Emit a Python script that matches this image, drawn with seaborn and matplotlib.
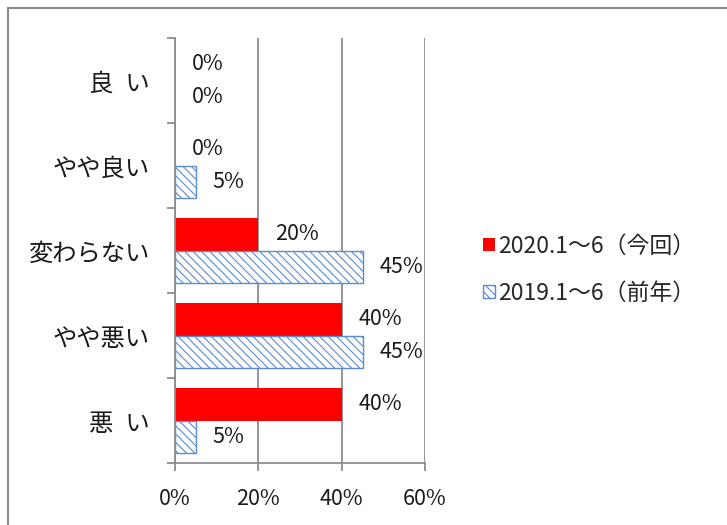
import matplotlib
matplotlib.use('Agg')
import matplotlib.pyplot as plt
import seaborn as sns
import pandas as pd
from matplotlib.patches import Patch, Rectangle
from matplotlib.ticker import FixedLocator

# data
categories = ['良\u2002い', 'やや良い', '変わらない', 'やや悪い', '悪\u2002い']
series_names = ['2020.1～6（今回）', '2019.1～6（前年）']
values_2020 = [0, 0, 20, 40, 40]
values_2019 = [0, 5, 45, 45, 5]
x_ticks = [0, 20, 40, 60]

sns.set_style('white')
plt.rcParams['font.family'] = ['Noto Sans CJK JP', 'DejaVu Sans']
plt.rcParams['hatch.linewidth'] = 0.8
plt.rcParams['hatch.color'] = '#6f9ad6'

df = pd.DataFrame({
    'category': categories * 2,
    'series': [series_names[0]] * 5 + [series_names[1]] * 5,
    'value': values_2020 + values_2019,
})

fig = plt.figure(figsize=(7.27, 5.25), dpi=100)
ax = fig.add_axes([0.2407, 0.118, 0.344, 0.8095])

sns.barplot(data=df, y='category', x='value', hue='series', orient='h',
            order=categories, hue_order=series_names,
            palette=['#ff0000', 'white'], width=0.76, ax=ax,
            legend=False, saturation=1)

n = len(categories)
red_bars = ax.patches[:n]
blue_bars = ax.patches[n:2 * n]
for p in red_bars:
    p.set_edgecolor('none')
for p, v in zip(blue_bars, values_2019):
    p.set_facecolor('white')
    p.set_edgecolor('#5b8bd0')
    p.set_linewidth(1.0 if v > 0 else 0)
    p.set_hatch('\\\\\\\\')

# value labels
for bars, vals in [(red_bars, values_2020), (blue_bars, values_2019)]:
    for p, v in zip(bars, vals):
        ax.annotate(f'{v}%', (p.get_width(), p.get_y() + p.get_height() / 2),
                    xytext=(12, 0), textcoords='offset points',
                    ha='left', va='center', fontsize=15.5, color='#1a1a1a')

ax.set_xlim(0, 60)
ax.set_ylim(n - 0.5, -0.5)
ax.set_xticks(x_ticks)
ax.set_xticklabels([f'{t}%' for t in x_ticks], fontsize=15.5, color='#1a1a1a')
ax.xaxis.grid(True, color='#8c8c8c', linewidth=1.3)
ax.set_axisbelow(True)

ax.set_ylabel('')
ax.set_xlabel('')
ax.set_yticks(range(n))
ax.set_yticklabels(categories, fontsize=17.5, color='#1a1a1a')
ax.yaxis.set_minor_locator(FixedLocator([i - 0.5 for i in range(n + 1)]))
ax.tick_params(axis='y', which='major', length=0, pad=18)
ax.tick_params(axis='y', which='minor', length=6, width=1.3, color='#8c8c8c', left=True)
ax.tick_params(axis='x', which='major', length=6, width=1.3, color='#8c8c8c', bottom=True, pad=12)

for side in ['top', 'right']:
    ax.spines[side].set_visible(False)
for side in ['left', 'bottom']:
    ax.spines[side].set_color('#8c8c8c')
    ax.spines[side].set_linewidth(1.3)

handles = [
    Patch(facecolor='#ff0000', edgecolor='none'),
    Patch(facecolor='white', edgecolor='#5b8bd0', hatch='\\\\\\\\', linewidth=1.0),
]
fig.legend(handles, series_names, loc='center left',
           bbox_to_anchor=(0.664, 0.4867), frameon=False, fontsize=16.5,
           handlelength=0.52, handleheight=0.52, handletextpad=0.15,
           labelspacing=1.05, borderpad=0, borderaxespad=0)

# outer chart frame
fig.patches.append(Rectangle((8 / 727, -0.1), 1.2, 1.1 - 8 / 525,
                             transform=fig.transFigure, fill=False,
                             edgecolor='#8c8c8c', linewidth=1.5))

fig.savefig('out.png', dpi=100)
